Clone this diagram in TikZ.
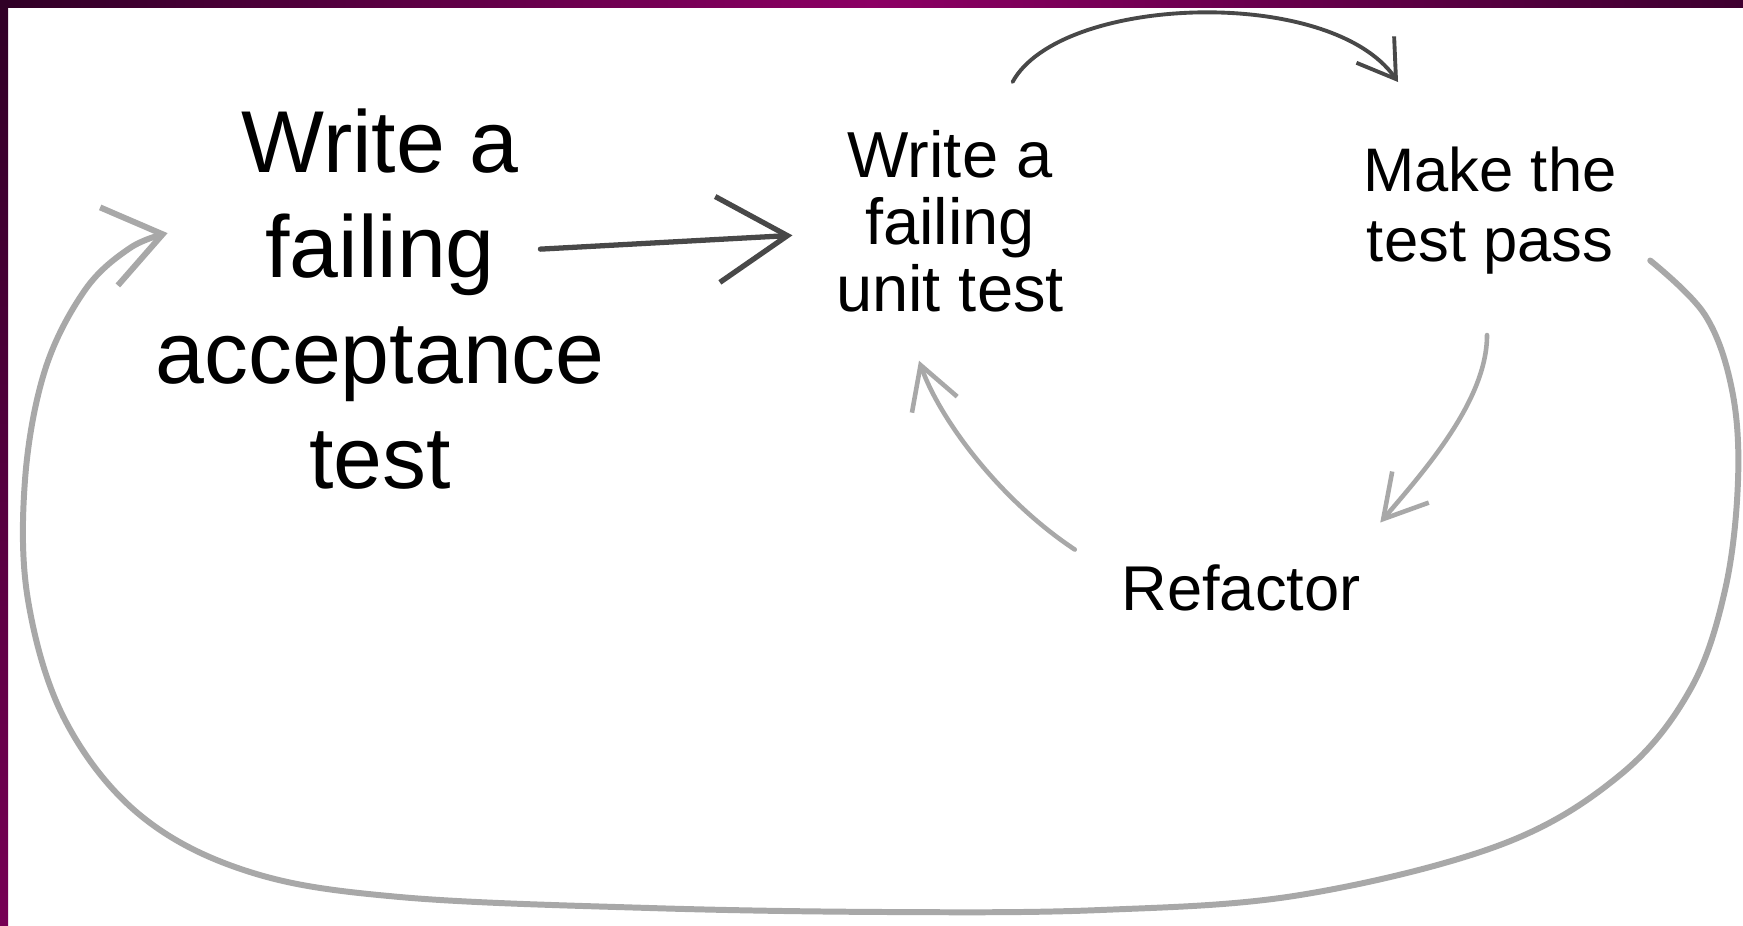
\documentclass[tikz,border=0pt]{standalone}
\usepackage{fontspec}
\setmainfont{Liberation Sans}
\usetikzlibrary{arrows.meta}

\definecolor{framedark}{RGB}{48,0,38}
\definecolor{framemag}{RGB}{140,0,100}
\definecolor{inkdark}{RGB}{72,72,72}
\definecolor{inklight}{RGB}{168,168,168}

\begin{document}
\begin{tikzpicture}[
  x=0.1mm, y=-0.1mm,
  lbl/.style={align=center, inner sep=0pt, anchor=north, text=black},
  bigtxt/.style={lbl, font=\fontsize{25}{30}\selectfont},
  unittxt/.style={lbl, font=\fontsize{18.5}{19}\selectfont},
  passtxt/.style={lbl, font=\fontsize{17.5}{20}\selectfont},
  mainarrow/.style={inkdark, line width=1.5pt, line cap=round, -{Straight Barb[length=7mm, width=8.6mm]}},
  arcarrow/.style={inkdark, line width=1.1pt, line cap=round, -{Straight Barb[length=3.6mm, width=4.6mm]}},
  innerarrow/.style={inklight, line width=1.3pt, line cap=round, -{Straight Barb[length=4.2mm, width=4.8mm]}},
  loopback/.style={inklight, line width=1.7pt, line cap=round, -{Straight Barb[length=5.5mm, width=8mm]}}
]
  %% -- Canvas and frame --------------------------------------------------
  \useasboundingbox (0,0) rectangle (1743,925);
  \fill[white] (0,0) rectangle (1743,925);
  \shade[left color=framedark, right color=framedark!85!framemag, middle color=framemag]
    (0,0) rectangle (1743,7);
  \shade[top color=framedark, bottom color=framemag!85!black] (0,0) rectangle (8,925);

  %% -- Steps ---------------------------------------------------------------
  \node[bigtxt] (accept) at (380,108) {Write a\\failing\\acceptance\\test};
  \node[unittxt] (unit) at (950,130) {Write a\\failing\\unit test};
  \node[passtxt] (pass) at (1490,146) {Make the\\test pass};
  \node[inner sep=0pt, anchor=base, font=\fontsize{18}{20}\selectfont] (refactor) at (1241,610) {Refactor};

  %% -- Connectors ----------------------------------------------------------
  % acceptance test -> unit test
  \draw[mainarrow] ([shift={(-65,-50)}]accept.east) -- ([shift={(-43,14)}]unit.west);
  % unit test -> make it pass (over the top)
  \draw[arcarrow] ([shift={(-52,-48)}]unit.north east)
    .. controls (1060,-5) and (1330,-15) .. ([shift={(-92,-64)}]pass.north);
  % make it pass -> refactor
  \draw[innerarrow] ([shift={(-3,60)}]pass.south)
    .. controls (1487,400) and (1425,470) .. ([shift={(19,-41)}]refactor.north east);
  % refactor -> unit test
  \draw[innerarrow] ([shift={(-46,-14)}]refactor.north west)
    .. controls (1000,500) and (940,420) .. ([shift={(-31,48)}]unit.south);
  % big loop back to the acceptance test
  \coordinate (loopstart) at ([shift={(33,50)}]pass.east);
  \coordinate (loopend) at ([shift={(13,-66)}]accept.west);
  \draw[loopback] plot[smooth, tension=0.6] coordinates {
    (loopstart) (1705,315) (1732,390) (1738,480) (1725,590) (1690,690)
    (1620,775) (1500,845) (1300,895) (1100,910) (890,912) (650,908)
    (400,897) (250,872) (140,815) (65,720) (28,600) (25,480)
    (45,370) (85,290) (130,248) (loopend)};
\end{tikzpicture}
\end{document}
